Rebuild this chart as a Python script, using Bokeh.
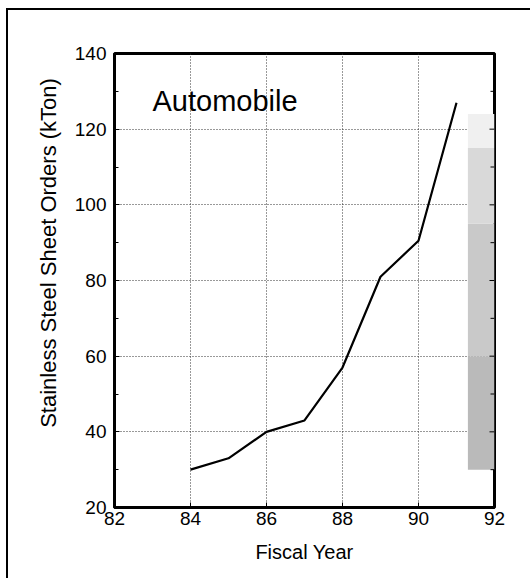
import math
from bokeh.plotting import figure
from bokeh.models import FixedTicker, Range1d
from bokeh.core.properties import value
from bokeh.embed import file_html
from bokeh.resources import INLINE

# Data
years = [84, 85, 86, 87, 88, 89, 90, 91]
orders = [30, 33, 40, 43, 57, 81, 90.5, 127]
x_ticks = [82, 84, 86, 88, 90, 92]
y_ticks = [20, 40, 60, 80, 100, 120, 140]
y_minor = [30, 50, 70, 90, 110, 130]
grid_x = [84, 86, 88, 90]
grid_y = [40, 60, 80, 100, 120]
shade_left = [91.3, 91.3, 91.3, 91.3]
shade_right = [92, 92, 92, 92]
shade_bottom = [30, 60, 95, 115]
shade_top = [60, 95, 115, 124]
shade_colors = ["#bababa", "#c9c9c9", "#d9d9d9", "#f0f0f0"]
label_text = ["Automobile"]
label_x = [83.0]
label_y = [127.4]

FONT = "Liberation Sans"

p = figure(width=524, height=570, output_backend="svg", toolbar_location=None,
           x_range=Range1d(82, 92), y_range=Range1d(20, 140),
           min_border_left=106, min_border_right=38, min_border_top=43,
           min_border_bottom=73)
p.styles = {"border-top": "2px solid black", "border-left": "2px solid black",
            "margin-left": "6px", "margin-top": "8px"}
p.background_fill_color = "white"
p.border_fill_color = "white"
p.outline_line_color = "black"
p.outline_line_width = 3

# grids
p.xgrid.ticker = FixedTicker(ticks=grid_x)
p.ygrid.ticker = FixedTicker(ticks=grid_y)
for g in (p.xgrid, p.ygrid):
    g.grid_line_color = "#333333"
    g.grid_line_dash = "1 2"
    g.grid_line_width = 1

# shaded forecast zone
p.quad(left=shade_left, right=shade_right, bottom=shade_bottom, top=shade_top,
       fill_color=shade_colors, line_color=None)

# line
p.line(years, orders, line_color="black", line_width=2.2)

# right-side inward ticks
p.ray(x=[x_ticks[-1]] * len(y_ticks), y=y_ticks, length=5, length_units="screen",
      angle=math.pi, line_color="black", line_width=1)
p.ray(x=[x_ticks[-1]] * len(y_minor), y=y_minor, length=4, length_units="screen",
      angle=math.pi, line_color="black", line_width=1)

# label
p.text(x=label_x, y=label_y, text=label_text, text_font=value(FONT),
       text_font_size="29px", text_color="black", text_baseline="alphabetic")

# axes
xa = p.xaxis[0]
ya = p.yaxis[0]
xa.ticker = FixedTicker(ticks=x_ticks)
ya.ticker = FixedTicker(ticks=y_ticks, minor_ticks=y_minor)
xa.axis_label = "Fiscal Year"
ya.axis_label = "\u00a0" * 9 + "Stainless Steel Sheet Orders (kTon)"
for a in (xa, ya):
    a.axis_line_width = 3
    a.axis_line_color = "black"
    a.major_tick_in = 5
    a.major_tick_out = 0
    a.minor_tick_in = 4
    a.minor_tick_out = 0
    a.major_tick_line_color = "black"
    a.minor_tick_line_color = "black"
    a.major_label_text_font = FONT
    a.major_label_text_font_size = "19px"
    a.major_label_text_color = "black"
    a.axis_label_text_font = FONT
    a.axis_label_text_font_style = "normal"
    a.axis_label_text_color = "black"
xa.minor_tick_line_color = None
xa.major_label_standoff = 4
ya.major_label_standoff = 8
xa.axis_label_text_font_size = "20px"
ya.axis_label_text_font_size = "22px"
xa.axis_label_standoff = 13
ya.axis_label_standoff = 11

open("out.html", "w").write(file_html(p, INLINE))
